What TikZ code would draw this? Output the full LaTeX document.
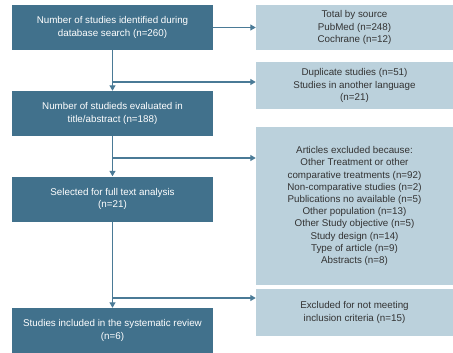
\documentclass[tikz,border=0pt]{standalone}
\usepackage{xcolor}
\usepackage{fontspec}
\setmainfont{Liberation Sans}
\usepackage{tikz}
\usetikzlibrary{arrows.meta}

\definecolor{stageblue}{HTML}{41718C}
\definecolor{noteblue}{HTML}{BBD1DC}
\definecolor{flowblue}{HTML}{4A7A96}

\tikzset{
  stage/.style={fill=stageblue, text=white, minimum width=201pt, minimum height=45pt,
    inner sep=0pt, align=center, font=\fontsize{9.8}{12.2}\selectfont},
  note/.style={fill=noteblue, text=black!80, minimum width=197pt,
    inner sep=0pt, align=center, font=\fontsize{9.8}{12.2}\selectfont},
  flow/.style={draw=flowblue, line width=1.2pt, -{Triangle[length=5.5pt,width=6pt]}}
}

\begin{document}
\begin{tikzpicture}[x=1pt,y=-1pt]
\useasboundingbox (0,0) rectangle (453,353);

%% etapas (izquierda) %%%%%%%%%%%%%%%%%%%%%%%%%%%%%%%%
\node[stage] (search) at (112.5,27.5) {Number of studies identified during\\database search (n=260)};
\node[stage] (screen) at (112.5,113.5) {Number of studieds evaluated in\\title/abstract (n=188)};
\node[stage] (full)   at (112.5,199) {Selected for full text analysis\\(n=21)};
\node[stage] (incl)   at (112.5,330.5) {Studies included in the systematic review\\(n=6)};

%% notas (derecha) %%%%%%%%%%%%%%%%%%%%%%%%%%%%%%%%%%%
\node[note, minimum height=45pt]  (source) at (354.5,27.5) {Total by source\\PubMed (n=248)\\Cochrane (n=12)};
\node[note, minimum height=47pt]  (dupl)   at (354.5,85.5) {Duplicate studies (n=51)\\Studies in another language\\(n=21)};
\node[note, minimum height=158pt] (excl)   at (354.5,206) {Articles excluded because:\\Other Treatment or other\\comparative treatments (n=92)\\Non-comparative studies (n=2)\\Publications no available (n=5)\\Other population (n=13)\\Other Study objective (n=5)\\Study design (n=14)\\Type of article (n=9)\\Abstracts (n=8)};
\node[note, minimum height=47pt]  (crit)   at (354.5,312.5) {Excluded for not meeting\\inclusion criteria (n=15)};

%% puntos de salida sobre la linea central %%%%%%%%%%
\coordinate (j1) at (112.5,82);
\coordinate (j2) at (112.5,158);
\coordinate (j3) at (112.5,298);

%% flechas %%%%%%%%%%%%%%%%%%%%%%%%%%%%%%%%%%%%%%%%%%
\draw[flow] (search.east) -- (search.east -| source.west);
\draw[flow] (search.south) -- (screen.north);
\draw[flow] (screen.south) -- (full.north);
\draw[flow] (full.south) -- (incl.north);
\draw[flow] (j1) -- (j1 -| dupl.west);
\draw[flow] (j2) -- (j2 -| excl.west);
\draw[flow] (j3) -- (j3 -| crit.west);
\end{tikzpicture}
\end{document}
